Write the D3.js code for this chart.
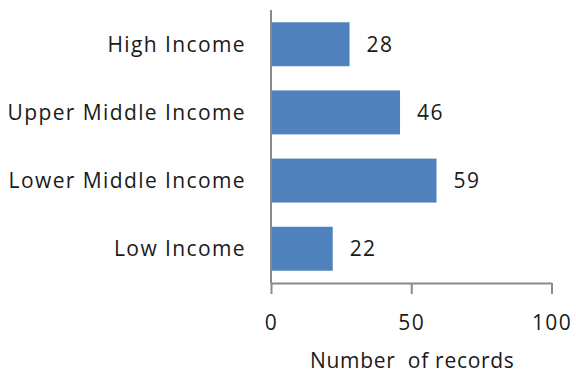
<!DOCTYPE html>
<html>
<head>
<meta charset="utf-8">
<script src="https://cdn.jsdelivr.net/npm/d3@7"></script>
<style>
  body { margin: 0; background: #fff; }
  text { font-family: "Open Sans", sans-serif; fill: #1a1a1a; letter-spacing: 1.4px; }
</style>
</head>
<body>
<div id="wrapper"></div>
<script>
const categories = ["High Income", "Upper Middle Income", "Lower Middle Income", "Low Income"];
const counts = [28, 46, 59, 22];
const xTicks = [0, 50, 100];
const axisTitle = "Number  of records";

function drawBars() {
  const dimensions = {
    width: 576,
    height: 374,
    margin: { top: 10, right: 24, bottom: 91, left: 271 },
  };
  dimensions.plotWidth = 551.5 - dimensions.margin.left;
  dimensions.plotHeight = dimensions.height - dimensions.margin.top - dimensions.margin.bottom;

  const chart = d3.select("#wrapper")
    .append("svg")
    .attr("width", dimensions.width)
    .attr("height", dimensions.height);

  const plot = chart.append("g")
    .attr("transform", `translate(${dimensions.margin.left}, ${dimensions.margin.top})`);

  // scales
  const xScale = d3.scaleLinear().domain([0, 100]).range([0, dimensions.plotWidth]);
  const yScale = d3.scaleBand()
    .domain(categories)
    .range([0, dimensions.plotHeight])
    .paddingInner(0.355)
    .paddingOuter(0.18);

  const data = categories.map((c, i) => ({ category: c, value: counts[i] }));

  // bars
  plot.selectAll(".bar")
    .data(data)
    .enter()
    .append("rect")
    .attr("class", "bar")
    .attr("x", 0)
    .attr("y", (d) => yScale(d.category))
    .attr("width", (d) => xScale(d.value))
    .attr("height", yScale.bandwidth())
    .attr("fill", "#4f81bd");

  // value labels
  plot.selectAll(".value")
    .data(data)
    .enter()
    .append("text")
    .attr("class", "value")
    .attr("x", (d) => xScale(d.value) + 17)
    .attr("y", (d) => yScale(d.category) + yScale.bandwidth() / 2)
    .attr("dy", "0.35em")
    .style("font-size", "21px")
    .text((d) => d.value);

  // category labels
  plot.selectAll(".label")
    .data(categories)
    .enter()
    .append("text")
    .attr("class", "label")
    .attr("x", -25)
    .attr("y", (d) => yScale(d) + yScale.bandwidth() / 2)
    .attr("dy", "0.35em")
    .attr("text-anchor", "end")
    .style("font-size", "21px")
    .text((d) => d);

  // y axis line
  plot.append("line")
    .attr("x1", 0).attr("x2", 0)
    .attr("y1", 0).attr("y2", dimensions.plotHeight)
    .attr("stroke", "#8a8a8a")
    .attr("stroke-width", 2);

  // x axis
  const xAxis = plot.append("g")
    .attr("transform", `translate(0, ${dimensions.plotHeight})`)
    .call(d3.axisBottom(xScale).tickValues(xTicks).tickSize(11).tickPadding(21).tickSizeOuter(0));
  xAxis.select(".domain").attr("stroke", "#8a8a8a").attr("stroke-width", 2);
  xAxis.selectAll(".tick line").attr("stroke", "#8a8a8a").attr("stroke-width", 2);
  xAxis.selectAll(".tick text")
    .style("font-family", "'Open Sans', sans-serif")
    .style("font-size", "21px")
    .attr("fill", "#1a1a1a");

  plot.append("text")
    .attr("x", xScale(50) + 1)
    .attr("y", dimensions.plotHeight + 85)
    .attr("text-anchor", "middle")
    .style("font-size", "21px")
    .style("letter-spacing", "0.7px")
    .style("white-space", "pre")
    .text(axisTitle);
}
drawBars();
</script>
</body>
</html>
